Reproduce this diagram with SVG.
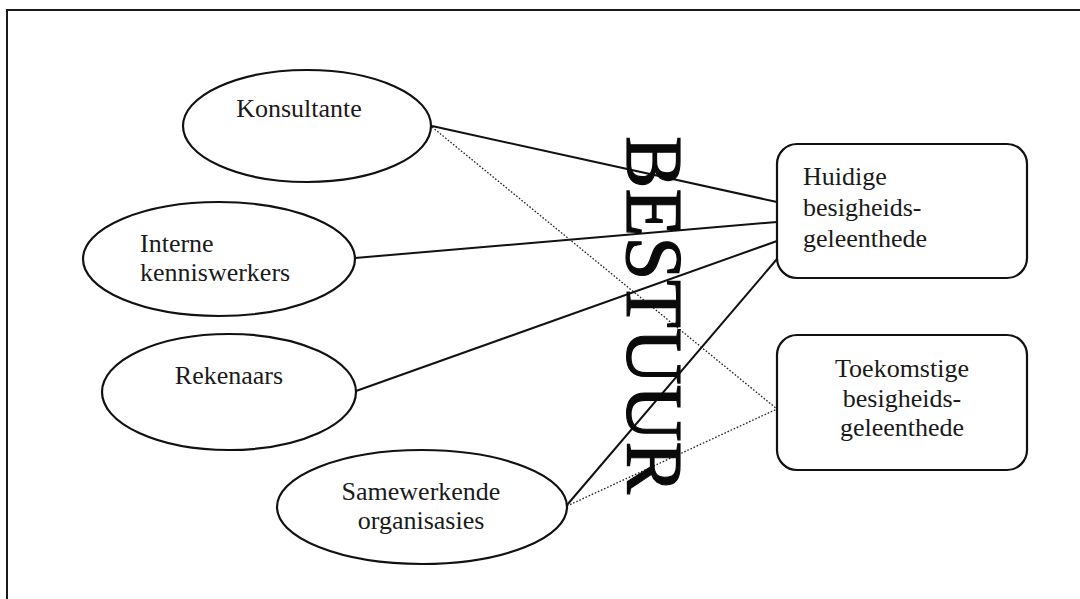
<svg xmlns="http://www.w3.org/2000/svg" width="1080" height="599" viewBox="0 0 1080 599">
  <style>
    .shape { fill: #ffffff; stroke: #111111; stroke-width: 2.2; }
    .label { font-family: "Liberation Serif", "Times New Roman", serif; font-size: 26px; fill: #1a1a1a; }
    .mid { text-anchor: middle; }
    .solid { stroke: #111111; stroke-width: 2; fill: none; }
    .dotted { stroke: #222222; stroke-width: 1.3; stroke-dasharray: 1.6 1.8; fill: none; }
    .title { font-family: "Liberation Serif", "Times New Roman", serif; font-size: 80px; fill: #0a0a0a; stroke: #0a0a0a; stroke-width: 1.2; }
  </style>

  <rect x="0" y="0" width="1080" height="599" fill="#ffffff"/>
  <!-- outer frame, runs off the right and bottom edges -->
  <rect x="7" y="10" width="1100" height="620" fill="none" stroke="#1a1a1a" stroke-width="2"/>

  <!-- connectors -->
  <g id="connectors">
    <line class="solid" x1="432" y1="126" x2="777" y2="202"/>
    <line class="solid" x1="355" y1="258" x2="777" y2="222"/>
    <line class="solid" x1="356" y1="391" x2="777" y2="241"/>
    <line class="solid" x1="567" y1="505" x2="777" y2="259"/>
    <line class="dotted" x1="432" y1="127" x2="777" y2="409"/>
    <line class="dotted" x1="567" y1="506" x2="777" y2="409"/>
  </g>

  <g id="konsultante">
    <ellipse class="shape" cx="307" cy="126" rx="124" ry="56"/>
    <text class="label mid" x="299" y="117">Konsultante</text>
  </g>

  <g id="interne-kenniswerkers">
    <ellipse class="shape" cx="219" cy="259" rx="136" ry="57"/>
    <text class="label" x="140" y="252">Interne</text>
    <text class="label" x="140" y="281">kenniswerkers</text>
  </g>

  <g id="rekenaars">
    <ellipse class="shape" cx="229" cy="392" rx="127" ry="58"/>
    <text class="label mid" x="229" y="384">Rekenaars</text>
  </g>

  <g id="samewerkende-organisasies">
    <ellipse class="shape" cx="422" cy="507" rx="145" ry="57"/>
    <text class="label mid" x="421" y="500">Samewerkende</text>
    <text class="label mid" x="421" y="529">organisasies</text>
  </g>

  <g id="huidige">
    <rect class="shape" x="777" y="144" width="250" height="134" rx="20" ry="20"/>
    <text class="label" x="803" y="185">Huidige</text>
    <text class="label" x="803" y="216">besigheids-</text>
    <text class="label" x="803" y="247">geleenthede</text>
  </g>

  <g id="toekomstige">
    <rect class="shape" x="777" y="335" width="250" height="135" rx="20" ry="20"/>
    <text class="label mid" x="902" y="377">Toekomstige</text>
    <text class="label mid" x="902" y="407">besigheids-</text>
    <text class="label mid" x="902" y="436">geleenthede</text>
  </g>

  <g id="bestuur">
    <text class="title" transform="translate(627,136) rotate(90)" textLength="358" lengthAdjust="spacingAndGlyphs">BESTUUR</text>
  </g>
</svg>
